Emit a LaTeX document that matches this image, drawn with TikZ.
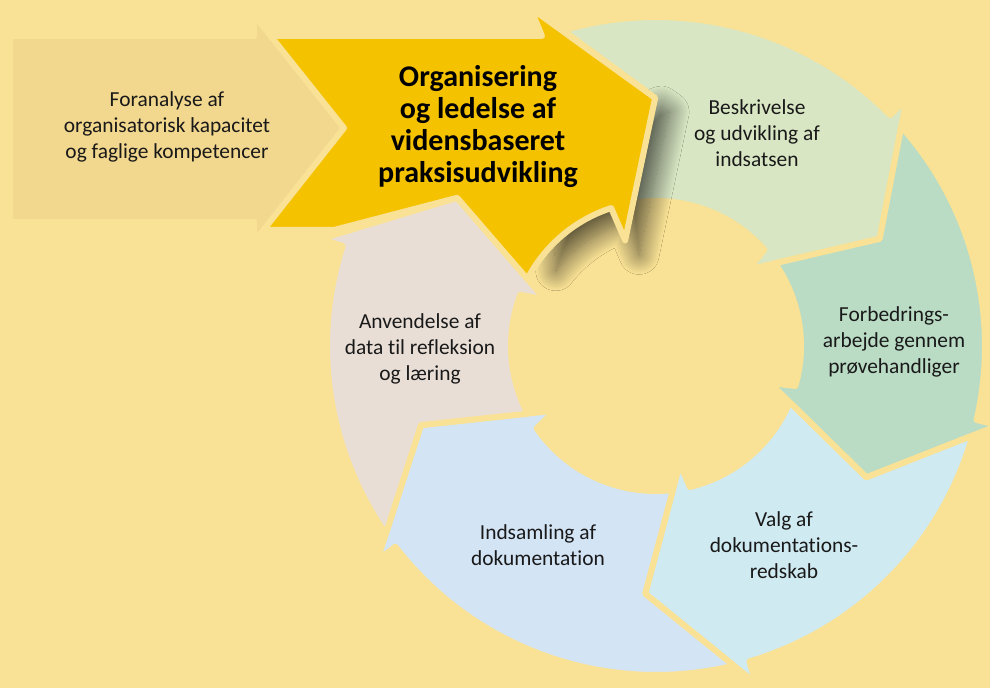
\documentclass[tikz,border=0pt]{standalone}
\usepackage{fontspec}
\setmainfont{Carlito}[Ligatures=NoCommon]
\usetikzlibrary{shadows.blur}

\definecolor{bgyellow}{HTML}{F9E295}
\definecolor{preyellow}{HTML}{F2D78E}
\definecolor{orgyellow}{HTML}{F5C200}
\definecolor{beskgreen}{HTML}{D8E6C3}
\definecolor{forbgreen}{HTML}{BADCC5}
\definecolor{valgblue}{HTML}{D0EAF1}
\definecolor{indsblue}{HTML}{D3E4F5}
\definecolor{anvbeige}{HTML}{E9DED6}

% one piece of the ring: #1 tip of the piece before, #2 own tip, #3 fill
\newcommand{\ringseg}[3]{%
  \path[seg, fill=#3] (#1+16.2:329) arc[start angle=#1+16.2, end angle=#2+19, radius=329]
    -- (#2+19:352) -- (#2:248) -- (#2+14:120) -- (#2+16:145)
    arc[start angle=#2+16, end angle=#1+9.2, radius=145] -- (#1:248) -- cycle;}

\begin{document}
\begin{tikzpicture}[x=0.5pt,y=0.5pt,
  seg/.style={draw=bgyellow, line width=3pt, line join=round},
  lbl/.style={align=center, text=black!90, font=\fontsize{10.7}{13}\selectfont},
  head/.style={align=center, text=black, font=\bfseries\fontsize{15}{16}\selectfont}]
\useasboundingbox (-656,-342) rectangle (334,346);
\fill[bgyellow] (-656,-342) rectangle (334,346);

\ringseg{90.2}{25.6}{beskgreen}
\ringseg{25.6}{-32}{forbgreen}
\ringseg{-32}{-92.5}{valgblue}
\ringseg{-92.5}{-161.4}{indsblue}
\ringseg{-161.4}{-216.7}{anvbeige}

\path[seg, fill=preyellow] (-646,310) -- (-402,310) -- (-402,331) -- (-312,218)
  -- (-402,104) -- (-402,124) -- (-646,124) -- cycle;

% shadow under the head only
\path[fill=orgyellow, blur shadow={shadow xshift=7pt, shadow yshift=-7pt,
  shadow blur radius=10pt, shadow blur steps=24, shadow opacity=65}]
  (92:254) -- (90.2:248) -- (106.3:110) -- (108:145)
  arc[start angle=108, end angle=142, radius=145] -- (120:240) -- cycle;

\path[seg, fill=orgyellow] (-385.3,310) -- (-114,310) -- (110.4:361) -- (90.2:248)
  -- (106.3:110) -- (108:145) arc[start angle=108, end angle=152.5, radius=145]
  -- (143.3:248) -- (-322,116) -- (-392.5,116) -- (-312,218) -- cycle;

\node (pre)  at (-489,219) [lbl]  {Foranalyse af\\organisatorisk kapacitet\\og faglige kompetencer};
\node (org)  at (-178,219) [head] {Organisering\\og ledelse af\\vidensbaseret\\praksisudvikling};
\node (besk) at (101,213)  [lbl]  {Beskrivelse\\og udvikling af\\indsatsen};
\node (forb) at (238,4)    [lbl]  {Forbedrings-\\arbejde gennem\\prøvehandliger};
\node (valg) at (128,-199) [lbl]  {Valg af\\dokumentations-\\redskab};
\node (inds) at (-118,-199) [lbl] {Indsamling af\\dokumentation};
\node (anv)  at (-236,-3)  [lbl]  {Anvendelse af\\data til refleksion\\og læring};
\end{tikzpicture}
\end{document}
